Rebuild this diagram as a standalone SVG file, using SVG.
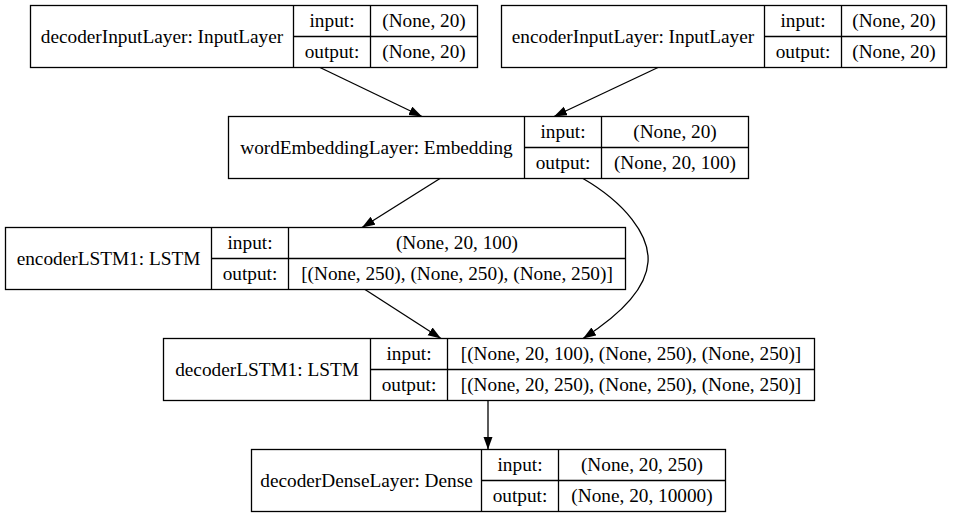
<svg xmlns="http://www.w3.org/2000/svg" width="953" height="516" viewBox="0 0 953 516">
<style>
  .box { fill: #ffffff; stroke: #000000; stroke-width: 1.3; }
  .ln { stroke: #000000; stroke-width: 1.3; fill: none; }
  .t { font-family: "Liberation Serif", "DejaVu Serif", serif; font-size: 19.3px; fill: #000000; text-anchor: middle; }
  .edge { stroke: #000000; stroke-width: 1.3; fill: none; marker-end: url(#arr); }
</style>
<defs>
  <marker id="arr" markerUnits="userSpaceOnUse" markerWidth="14" markerHeight="10" refX="13" refY="4.67" orient="auto">
    <path d="M0,0 L13,4.67 L0,9.33 Z" fill="#000000" stroke="none"/>
  </marker>
</defs>
<rect width="953" height="516" fill="#ffffff"/>

<g id="edges">
  <path class="edge" d="M320,67.5 L422,116.5"/>
  <path class="edge" d="M658,67.5 L554,116.5"/>
  <path class="edge" d="M440,178.5 L362,227.5"/>
  <path class="edge" d="M583,178.5 C625,203 650,235 648,262 C646,292 615,318 583,338.5"/>
  <path class="edge" d="M365,289.5 L441,338.5"/>
  <path class="edge" d="M488,400.5 L488,449.5"/>
</g>

<g id="decoderInputLayer">
  <rect class="box" x="30.5" y="5.5" width="447" height="62"/>
  <line class="ln" x1="293.5" y1="5.5" x2="293.5" y2="67.5"/>
  <line class="ln" x1="370.5" y1="5.5" x2="370.5" y2="67.5"/>
  <line class="ln" x1="293.5" y1="36.5" x2="477.5" y2="36.5"/>
  <text class="t" x="162" y="43">decoderInputLayer: InputLayer</text>
  <text class="t" x="332" y="27">input:</text>
  <text class="t" x="332" y="58">output:</text>
  <text class="t" x="424" y="27">(None, 20)</text>
  <text class="t" x="424" y="58">(None, 20)</text>
</g>

<g id="encoderInputLayer">
  <rect class="box" x="501.5" y="5.5" width="445" height="62"/>
  <line class="ln" x1="764.5" y1="5.5" x2="764.5" y2="67.5"/>
  <line class="ln" x1="841.5" y1="5.5" x2="841.5" y2="67.5"/>
  <line class="ln" x1="764.5" y1="36.5" x2="946.5" y2="36.5"/>
  <text class="t" x="633" y="43">encoderInputLayer: InputLayer</text>
  <text class="t" x="803" y="27">input:</text>
  <text class="t" x="803" y="58">output:</text>
  <text class="t" x="894" y="27">(None, 20)</text>
  <text class="t" x="894" y="58">(None, 20)</text>
</g>

<g id="wordEmbeddingLayer">
  <rect class="box" x="228.5" y="116.5" width="520" height="62"/>
  <line class="ln" x1="524.5" y1="116.5" x2="524.5" y2="178.5"/>
  <line class="ln" x1="601.5" y1="116.5" x2="601.5" y2="178.5"/>
  <line class="ln" x1="524.5" y1="147.5" x2="748.5" y2="147.5"/>
  <text class="t" x="376.5" y="154">wordEmbeddingLayer: Embedding</text>
  <text class="t" x="563" y="138">input:</text>
  <text class="t" x="563" y="169">output:</text>
  <text class="t" x="675" y="138">(None, 20)</text>
  <text class="t" x="675" y="169">(None, 20, 100)</text>
</g>

<g id="encoderLSTM1">
  <rect class="box" x="5.5" y="227.5" width="620" height="62"/>
  <line class="ln" x1="211.5" y1="227.5" x2="211.5" y2="289.5"/>
  <line class="ln" x1="288.5" y1="227.5" x2="288.5" y2="289.5"/>
  <line class="ln" x1="211.5" y1="258.5" x2="625.5" y2="258.5"/>
  <text class="t" x="108.5" y="265">encoderLSTM1: LSTM</text>
  <text class="t" x="250" y="249">input:</text>
  <text class="t" x="250" y="280">output:</text>
  <text class="t" x="457" y="249">(None, 20, 100)</text>
  <text class="t" x="457" y="280">[(None, 250), (None, 250), (None, 250)]</text>
</g>

<g id="decoderLSTM1">
  <rect class="box" x="163.5" y="338.5" width="651" height="62"/>
  <line class="ln" x1="370.5" y1="338.5" x2="370.5" y2="400.5"/>
  <line class="ln" x1="447.5" y1="338.5" x2="447.5" y2="400.5"/>
  <line class="ln" x1="370.5" y1="369.5" x2="814.5" y2="369.5"/>
  <text class="t" x="267" y="376">decoderLSTM1: LSTM</text>
  <text class="t" x="409" y="360">input:</text>
  <text class="t" x="409" y="391">output:</text>
  <text class="t" x="631" y="360">[(None, 20, 100), (None, 250), (None, 250)]</text>
  <text class="t" x="631" y="391">[(None, 20, 250), (None, 250), (None, 250)]</text>
</g>

<g id="decoderDenseLayer">
  <rect class="box" x="251.5" y="449.5" width="474" height="62"/>
  <line class="ln" x1="481.5" y1="449.5" x2="481.5" y2="511.5"/>
  <line class="ln" x1="558.5" y1="449.5" x2="558.5" y2="511.5"/>
  <line class="ln" x1="481.5" y1="480.5" x2="725.5" y2="480.5"/>
  <text class="t" x="366.5" y="487">decoderDenseLayer: Dense</text>
  <text class="t" x="520" y="471">input:</text>
  <text class="t" x="520" y="502">output:</text>
  <text class="t" x="642" y="471">(None, 20, 250)</text>
  <text class="t" x="642" y="502">(None, 20, 10000)</text>
</g>
</svg>
